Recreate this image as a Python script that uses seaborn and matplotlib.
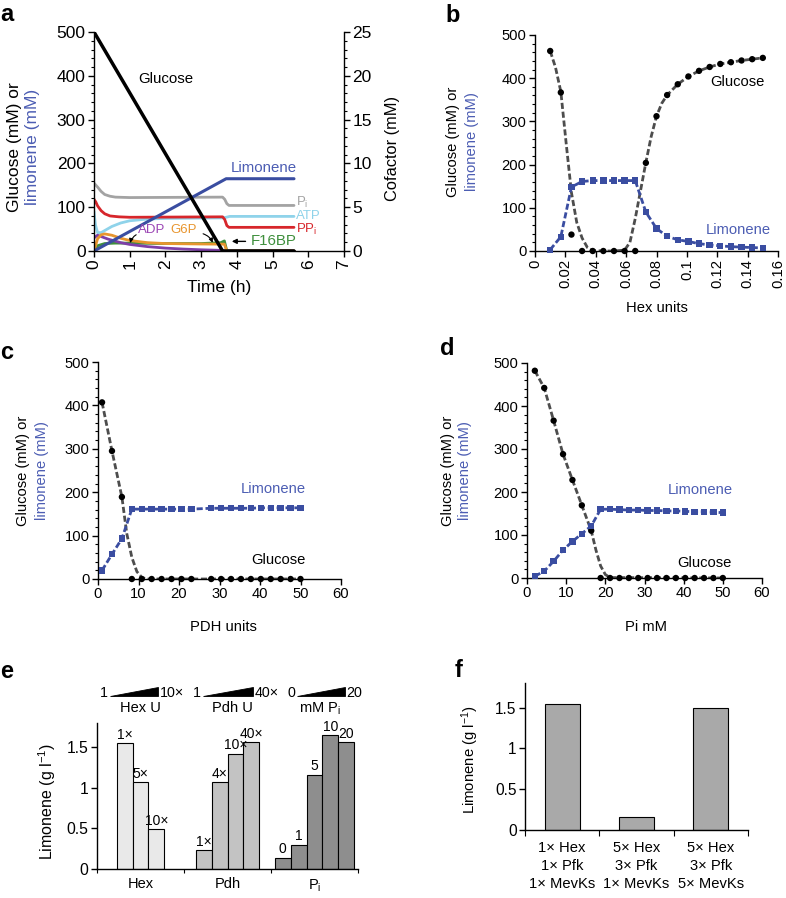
import numpy as np
import pandas as pd
import matplotlib
matplotlib.use("Agg")
import matplotlib.pyplot as plt
import matplotlib.transforms as mtransforms
from matplotlib.ticker import MultipleLocator, FuncFormatter
import seaborn as sns

# ---------------- data ----------------
# panel a (time course); glucose / limonene in mM (left axis), cofactors in mM (right axis)
a_glucose_t = [0.0, 3.6, 5.6]
a_glucose = [500, 0, 0]
a_limonene_t = [0.0, 3.7, 5.6]
a_limonene = [0, 165, 165]
a_pi_t = [0, 0.1, 0.2, 0.3, 0.45, 0.6, 1.0, 3.6, 3.66, 3.72, 3.78, 5.6]
a_pi = [7.75, 7.3, 6.8, 6.45, 6.25, 6.15, 6.1, 6.15, 5.9, 5.4, 5.2, 5.2]
a_ppi_t = [0, 0.05, 0.1, 0.2, 0.3, 0.45, 0.7, 1.0, 3.6, 3.66, 3.72, 3.78, 5.6]
a_ppi = [5.9, 5.6, 5.15, 4.6, 4.25, 4.0, 3.9, 3.85, 3.9, 3.6, 2.9, 2.7, 2.7]
a_atp_t = [0, 0.04, 0.1, 0.2, 0.35, 0.5, 0.75, 1.0, 1.5, 2.0, 3.6, 3.7, 3.8, 5.6]
a_atp = [4.5, 3.0, 2.1, 2.1, 2.45, 2.8, 3.2, 3.45, 3.65, 3.72, 3.78, 3.85, 3.95, 3.95]
a_adp_t = [0, 0.1, 0.2, 0.4, 0.75, 1.0, 1.5, 2.0, 2.5, 3.0, 3.5, 3.7, 5.6]
a_adp = [1.5, 1.8, 1.65, 1.35, 0.95, 0.75, 0.5, 0.33, 0.22, 0.14, 0.08, 0.0, 0.0]
a_g6p_t = [0, 0.1, 0.2, 0.3, 0.5, 0.75, 1.0, 1.5, 2.0, 3.0, 3.65, 3.72, 5.6]
a_g6p = [0, 1.4, 1.85, 1.95, 1.8, 1.45, 1.2, 0.95, 0.85, 0.8, 0.78, 0.0, 0.0]
a_f16bp_t = [0, 0.1, 0.3, 0.6, 1.0, 2.0, 3.0, 3.55, 3.65, 3.72, 5.6]
a_f16bp = [0, 0.6, 0.85, 0.9, 0.9, 0.85, 0.85, 0.95, 1.15, 0.0, 0.0]
a_other_t = [3.6, 5.6]
a_other = [0, 0]

# panel b (Hex units)
b_x = [0.010, 0.017, 0.024, 0.031, 0.038, 0.045, 0.052, 0.059, 0.066, 0.073, 0.080,
       0.087, 0.094, 0.101, 0.108, 0.115, 0.122, 0.129, 0.136, 0.143, 0.150]
b_glucose = [463, 367, 38, 0, 0, 0, 0, 0, 0, 204, 312, 361, 386, 404, 417, 426, 433, 437, 441, 444, 447]
b_limonene = [3, 33, 148, 161, 163, 163, 163, 163, 163, 90, 52, 34, 26, 22, 17, 14, 12, 10, 9, 8, 7]
b_fit_x = [0.010, 0.0135, 0.017, 0.0205, 0.024, 0.0275, 0.031, 0.0345, 0.038, 0.045, 0.052,
           0.059, 0.0625, 0.066, 0.0695, 0.073, 0.0765, 0.080, 0.0835, 0.087, 0.094, 0.101,
           0.108, 0.115, 0.122, 0.129, 0.136, 0.143, 0.150]
b_fit = [463, 425, 369, 250, 135, 66, 30, 8, 1, 0, 0, 2, 20, 75, 140, 205, 265, 312, 342, 361,
         386, 404, 417, 426, 433, 437, 441, 444, 447]

# panel c (PDH units)
c_x = [1.0, 3.45, 5.9, 8.35, 10.8, 13.25, 15.7, 18.15, 20.6, 23.05, 27.95, 30.4, 32.85,
       35.3, 37.75, 40.2, 42.65, 45.1, 47.55, 50.0]
c_glucose = [407, 295, 189, 0, 0, 0, 0, 0, 0, 0, 0, 0, 0, 0, 0, 0, 0, 0, 0, 0]
c_limonene = [20, 57, 93, 161, 161, 161, 161, 161, 161, 161, 163, 163, 163, 163, 163, 164, 164, 164, 164, 164]
c_fit_x = [1.0, 3.45, 5.9, 7.1, 8.35, 9.6, 10.8, 12.0, 50.0]
c_fit = [407, 295, 189, 105, 50, 17, 4, 0, 0]

# panel d (Pi mM)
d_x = [2.0, 4.4, 6.8, 9.2, 11.6, 14.0, 16.4, 18.8, 21.2, 23.6, 26.0, 28.4, 30.8, 33.2,
       35.6, 38.0, 40.4, 42.8, 45.2, 47.6, 50.0]
d_glucose = [482, 442, 366, 288, 228, 169, 110, 0, 0, 0, 0, 0, 0, 0, 0, 0, 0, 0, 0, 0, 0]
d_limonene = [4, 16, 39, 65, 85, 103, 121, 160, 160, 159, 158, 158, 157, 157, 156, 156, 155, 154, 154, 153, 152]
d_fit_x = [2.0, 4.4, 6.8, 9.2, 11.6, 14.0, 16.4, 17.6, 18.8, 20.0, 21.2, 50.0]
d_fit = [482, 442, 366, 288, 228, 169, 110, 65, 28, 8, 1, 0]

# panel e
e_groups = ["Hex", "Pdh", r"P$_\mathregular{i}$"]
e_hex = [1.55, 1.07, 0.49]
e_hex_labels = ["1×", "5×", "10×"]
e_pdh = [0.23, 1.07, 1.42, 1.56]
e_pdh_labels = ["1×", "4×", "10×", "40×"]
e_pi = [0.14, 0.30, 1.16, 1.65, 1.56]
e_pi_labels = ["0", "1", "5", "10", "20"]

# panel f
f_labels = ["1× Hex\n1× Pfk\n1× MevKs", "5× Hex\n3× Pfk\n1× MevKs", "5× Hex\n3× Pfk\n5× MevKs"]
f_values = [1.54, 0.16, 1.49]

# ---------------- style ----------------
sns.set_theme(style="ticks")
plt.rcParams["font.family"] = ["Liberation Sans", "DejaVu Sans"]
FS = 10.6
plt.rcParams.update({
    "font.size": FS,
    "mathtext.fontset": "custom",
    "mathtext.rm": "Liberation Sans",
    "mathtext.it": "Liberation Sans:italic",
    "mathtext.bf": "Liberation Sans:bold",
    "text.color": "black",
    "axes.labelcolor": "black",
    "axes.edgecolor": "black",
    "xtick.color": "black",
    "ytick.color": "black",
    "axes.linewidth": 1.0,
    "xtick.labelsize": FS,
    "ytick.labelsize": FS,
})

BLUE = "#3a4da1"
BLUE_TXT = "#4c5db3"
W, H = 786, 898
fig = plt.figure(figsize=(W / 100, H / 100), dpi=100)


def add_ax(l, t, r, b):
    return fig.add_axes([l / W, 1 - b / H, (r - l) / W, (b - t) / H])


def style(ax, right=False):
    sns.despine(ax=ax, right=not right)
    ax.tick_params(which="major", direction="out", length=4, width=1, pad=2)
    ax.tick_params(which="minor", direction="out", length=2.5, width=0.8)


def ylab2(ax, x1, x2, y, fs=FS):
    ax.text(x1, y, "Glucose (mM) or", rotation=90, transform=ax.transAxes,
            ha="center", va="center", fontsize=fs)
    ax.text(x2, y, "limonene (mM)", rotation=90, transform=ax.transAxes,
            ha="center", va="center", fontsize=fs, color=BLUE_TXT)


gfmt = FuncFormatter(lambda v, p: f"{v:g}")

# ---------------- panel a ----------------
FA = 12.5
ax = add_ax(94, 32, 344, 251)
ax2 = ax.twinx()
ax.set_zorder(ax2.get_zorder() + 1)
ax.patch.set_visible(False)

lw_c = 2.0
sns.lineplot(x=a_other_t, y=a_other, ax=ax2, color="#4b2e16", linewidth=2.4)
sns.lineplot(x=a_pi_t, y=a_pi, ax=ax2, color="#a3a3a3", linewidth=lw_c)
sns.lineplot(x=a_atp_t, y=a_atp, ax=ax2, color="#8fd3ea", linewidth=lw_c)
sns.lineplot(x=a_ppi_t, y=a_ppi, ax=ax2, color="#d7262b", linewidth=lw_c)
sns.lineplot(x=a_f16bp_t, y=a_f16bp, ax=ax2, color="#3f8f3c", linewidth=lw_c)
sns.lineplot(x=a_adp_t, y=a_adp, ax=ax2, color="#7e3fa8", linewidth=lw_c)
sns.lineplot(x=a_g6p_t, y=a_g6p, ax=ax2, color="#e8952e", linewidth=lw_c)
sns.lineplot(x=a_limonene_t, y=a_limonene, ax=ax, color=BLUE, linewidth=2.2)
sns.lineplot(x=a_glucose_t, y=a_glucose, ax=ax, color="black", linewidth=2.5)

ax.set_xlim(0, 7)
ax.set_ylim(0, 500)
ax2.set_ylim(0, 25)
ax.set_xticks(range(8))
ax.yaxis.set_major_locator(MultipleLocator(100))
ax.yaxis.set_minor_locator(MultipleLocator(20))
ax2.yaxis.set_major_locator(MultipleLocator(5))
ax2.yaxis.set_minor_locator(MultipleLocator(1))
for a_ in (ax, ax2):
    a_.tick_params(which="major", direction="out", length=4, width=1, pad=2, labelsize=FA)
    a_.tick_params(which="minor", direction="out", length=2.5, width=0.8)
    a_.spines["top"].set_visible(False)
ax.spines["right"].set_visible(False)
ax2.spines["left"].set_visible(False)
ax2.spines["bottom"].set_visible(False)
ax.tick_params(axis="x", labelrotation=90)
ax.set_xlabel("")
ax.set_ylabel("")
ax2.set_ylabel("")
ax.grid(False)
ax2.grid(False)
ax.text(0.5, -0.168, "Time (h)", transform=ax.transAxes, ha="center", va="center", fontsize=FA)
ylab2(ax, -0.316, -0.244, 0.475, fs=FA)
ax.text(1.196, 0.47, "Cofactor (mM)", rotation=90, transform=ax.transAxes,
        ha="center", va="center", fontsize=11.8)
ax.text(2.0, 392, "Glucose", ha="center", va="center", fontsize=10.8)
ax.text(4.75, 189, "Limonene", ha="center", va="center", fontsize=10.8, color=BLUE_TXT)
ax.text(5.65, 111, r"P$_\mathregular{i}$", ha="left", va="center", fontsize=9.5, color="#a3a3a3")
ax.text(5.65, 81, "ATP", ha="left", va="center", fontsize=9.5, color="#8fd3ea")
ax.text(5.65, 50, r"PP$_\mathregular{i}$", ha="left", va="center", fontsize=9.5, color="#d7262b")
ax.text(4.4, 22, "F16BP", ha="left", va="center", fontsize=10.8, color="#3f8f3c")
ax.annotate("", xy=(3.78, 22), xytext=(4.32, 22),
            arrowprops=dict(arrowstyle="-|>", color="black", lw=1, mutation_scale=7))
ax.text(1.62, 47, "ADP", ha="center", va="center", fontsize=9.5, color="#9b45b5")
ax.text(2.52, 47, "G6P", ha="center", va="center", fontsize=9.5, color="#e8952e")
ax.annotate("", xy=(1.0, 12), xytext=(1.25, 40),
            arrowprops=dict(arrowstyle="-|>", color="black", lw=0.8, mutation_scale=6,
                            connectionstyle="arc3,rad=0.3"))
ax.annotate("", xy=(3.35, 13), xytext=(2.98, 41),
            arrowprops=dict(arrowstyle="-|>", color="black", lw=0.8, mutation_scale=6,
                            connectionstyle="arc3,rad=-0.3"))

# ---------------- panel b ----------------
ax = add_ax(535, 35, 778, 251)
sns.lineplot(x=b_fit_x, y=b_fit, ax=ax, color="#4d4d4d", linewidth=2.0,
             linestyle=(0, (2.2, 1.0)), zorder=2)
sns.lineplot(x=b_x, y=b_limonene, ax=ax, color=BLUE, linewidth=2.0,
             linestyle=(0, (2.2, 1.0)), zorder=2)
sns.scatterplot(x=b_x, y=b_glucose, ax=ax, color="black", marker="o", s=21,
                edgecolor="none", zorder=3, clip_on=False)
sns.scatterplot(x=b_x, y=b_limonene, ax=ax, color=BLUE, marker="s", s=21,
                edgecolor="none", zorder=3, clip_on=False)
ax.set_xlim(0, 0.16)
ax.set_ylim(0, 500)
ax.xaxis.set_major_locator(MultipleLocator(0.02))
ax.xaxis.set_major_formatter(gfmt)
ax.yaxis.set_major_locator(MultipleLocator(100))
ax.yaxis.set_minor_locator(MultipleLocator(20))
style(ax)
ax.tick_params(axis="x", labelrotation=90)
ax.set_xlabel("")
ax.set_ylabel("")
ax.text(0.502, -0.264, "Hex units", transform=ax.transAxes, ha="center", va="center")
ylab2(ax, -0.337, -0.259, 0.505)
ax.text(0.133, 391, "Glucose", ha="center", va="center")
ax.text(0.134, 48, "Limonene", ha="center", va="center", color=BLUE_TXT)

# ---------------- panels c, d ----------------
def titration(ax, xs, glu, lim, fx, fy, xlabel, ylx, glu_xy, lim_xy):
    sns.lineplot(x=fx, y=fy, ax=ax, color="#4d4d4d", linewidth=2.0,
                 linestyle=(0, (2.2, 1.0)), zorder=2)
    sns.lineplot(x=xs, y=lim, ax=ax, color=BLUE, linewidth=2.0,
                 linestyle=(0, (2.2, 1.0)), zorder=2)
    sns.scatterplot(x=xs, y=glu, ax=ax, color="black", marker="o", s=21,
                    edgecolor="none", zorder=3, clip_on=False)
    sns.scatterplot(x=xs, y=lim, ax=ax, color=BLUE, marker="s", s=21,
                    edgecolor="none", zorder=3, clip_on=False)
    ax.set_xlim(0, 60)
    ax.set_ylim(0, 500)
    ax.xaxis.set_major_locator(MultipleLocator(10))
    ax.yaxis.set_major_locator(MultipleLocator(100))
    ax.yaxis.set_minor_locator(MultipleLocator(20))
    style(ax)
    ax.set_xlabel("")
    ax.set_ylabel("")
    ax.text(xlabel[1], xlabel[2], xlabel[0], transform=ax.transAxes, ha="center",
            va="center")
    ylab2(ax, ylx[0], ylx[1], 0.50)
    ax.text(glu_xy[0], glu_xy[1], "Glucose", ha="center", va="center")
    ax.text(lim_xy[0], lim_xy[1], "Limonene", ha="center", va="center", color=BLUE_TXT)


ax = add_ax(98, 362, 341, 579)
titration(ax, c_x, c_glucose, c_limonene, c_fit_x, c_fit, ("PDH units", 0.515, -0.221),
          (-0.309, -0.230), (44.5, 44), (43.2, 208))
ax = add_ax(527, 363, 762, 578)
titration(ax, d_x, d_glucose, d_limonene, d_fit_x, d_fit, ("Pi mM", 0.506, -0.228),
          (-0.336, -0.264), (45.4, 35), (44.2, 205))

# ---------------- panel e ----------------
ax = add_ax(97, 723, 358, 869)
bw = 0.183
rows = []
for gi, (vals, labs) in enumerate([(e_hex, e_hex_labels), (e_pdh, e_pdh_labels), (e_pi, e_pi_labels)]):
    n = len(vals)
    for i, (v, lab) in enumerate(zip(vals, labs)):
        rows.append(dict(pos=round(gi + (i - (n - 1) / 2) * bw, 4), val=v, grp=str(gi), lab=lab))
df_e = pd.DataFrame(rows)
sns.barplot(data=df_e, x="pos", y="val", hue="grp", native_scale=True, dodge=False,
            palette={"0": "#e9e9e9", "1": "#c3c3c3", "2": "#8e8e8e"}, width=1.0,
            errorbar=None, edgecolor="black", linewidth=0.8, saturation=1, legend=False, ax=ax)
for _, r in df_e.iterrows():
    ax.text(r["pos"], r["val"] + 0.02, r["lab"], ha="center", va="bottom", fontsize=10)
ax.set_xlim(-0.5, 2.5)
ax.set_ylim(0, 1.8)
ax.set_xticks([0, 1, 2])
ax.set_xticklabels(e_groups)
ax.set_xticks([-0.5, 0.5, 1.5, 2.5], minor=True)
ax.yaxis.set_major_locator(MultipleLocator(0.5))
ax.yaxis.set_major_formatter(gfmt)
style(ax)
ax.tick_params(axis="y", labelsize=11.3)
ax.tick_params(axis="x", which="major", length=0, pad=6, labelsize=10.5)
ax.tick_params(axis="x", which="minor", length=3)
ax.set_xlabel("")
ax.set_ylabel("")
ax.text(-0.19, 0.46, r"Limonene (g l$^{\mathregular{-1}}$)", rotation=90, transform=ax.transAxes,
        ha="center", va="center", fontsize=11.5)
trans = mtransforms.blended_transform_factory(ax.transData, ax.transAxes)
wedges = [(0, -0.35, 0.20, "1", "10×", "Hex U", -0.006),
          (1, -0.282, 0.293, "1", "40×", "Pdh U", 0.06),
          (2, -0.20, 0.35, "0", "20", r"mM P$_\mathregular{i}$", 0.06)]
for g, o0, o1, lo, hi, name, no in wedges:
    x0, x1 = g + o0, g + o1
    ax.fill([x0, x1, x1], [1.185, 1.185, 1.25], color="black", transform=trans,
            clip_on=False, linewidth=0.6)
    ax.text(x0 - 0.02, 1.205, lo, transform=trans, ha="right", va="center", fontsize=10.3)
    ax.text(x1 + 0.02, 1.205, hi, transform=trans, ha="left", va="center", fontsize=10.3)
    ax.text(g + no, 1.10, name, transform=trans, ha="center", va="center", fontsize=10.5)

# ---------------- panel f ----------------
ax = add_ax(525, 683, 748, 830)
sns.barplot(x=f_labels, y=f_values, color="#a9a9a9", width=0.47, errorbar=None,
            edgecolor="black", linewidth=0.8, saturation=1, ax=ax)
ax.set_xlim(-0.5, 2.5)
ax.set_ylim(0, 1.8)
ax.set_xticks([-0.5, 0.5, 1.5, 2.5], minor=True)
ax.yaxis.set_major_locator(MultipleLocator(0.5))
ax.yaxis.set_major_formatter(gfmt)
style(ax)
ax.tick_params(axis="y", labelsize=11.2)
ax.tick_params(axis="x", which="major", length=0, pad=8, labelsize=10.6)
ax.tick_params(axis="x", which="minor", length=4)
for lab in ax.get_xticklabels():
    lab.set_linespacing(1.38)
ax.set_xlabel("")
ax.set_ylabel("")
ax.text(-0.247, 0.48, r"Limonene (g l$^{\mathregular{-1}}$)", rotation=90, transform=ax.transAxes,
        ha="center", va="center", fontsize=10.7)

# ---------------- panel letters ----------------
for letter, x, y in [("a", 0, 21), ("b", 445, 22), ("c", 0, 359), ("d", 440, 355),
                     ("e", 0, 678), ("f", 455, 677)]:
    fig.text(x / W, 1 - y / H, letter, fontsize=17, fontweight="bold", ha="left", va="baseline")

fig.savefig("out.png", dpi=100)
